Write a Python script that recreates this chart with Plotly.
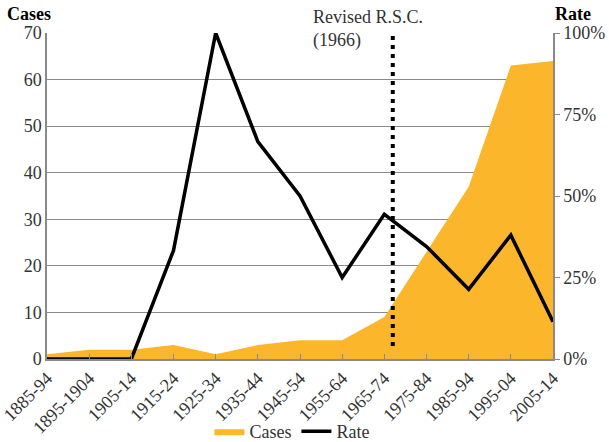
import plotly.graph_objects as go

periods = ["1885-94", "1895-1904", "1905-14", "1915-24", "1925-34", "1935-44",
           "1945-54", "1955-64", "1965-74", "1975-84", "1985-94", "1995-04", "2005-14"]
cases = [1, 2, 2, 3, 1, 3, 4, 4, 9, 23, 37, 63, 64]
rate = [0, 0, 0, 0.333, 1.0, 0.667, 0.50, 0.25, 0.444, 0.345, 0.214, 0.38, 0.114]

revision_pos = 8.2  # 1966 on category axis
FONT = "Liberation Serif"
GRAY = "#8a8a8a"
TXT = "#333333"
FS = 18

fig = go.Figure()
fig.add_trace(go.Scatter(x=periods, y=cases, name="Cases", mode="lines",
                         fill="tozeroy", fillcolor="#FBB62B",
                         line=dict(width=0, color="#FBB62B"), yaxis="y"))
fig.add_trace(go.Scatter(x=periods, y=rate, name="Rate", mode="lines",
                         line=dict(width=3.5, color="black"), yaxis="y2"))

fig.add_shape(type="line", xref="x", yref="y", x0=revision_pos, x1=revision_pos,
              y0=2.8, y1=70, line=dict(color="black", width=4, dash="4px,5px"))

fig.update_layout(
    width=609, height=442,
    margin=dict(l=47, r=56, t=33, b=83, autoexpand=False),
    paper_bgcolor="white", plot_bgcolor="white",
    font=dict(family=FONT, size=FS, color=TXT),
    showlegend=True,
    legend=dict(orientation="h", x=0.484, xanchor="center", y=-0.166, yanchor="top",
                font=dict(size=FS, color=TXT), itemwidth=30, tracegroupgap=0,
                bgcolor="rgba(0,0,0,0)"),
    xaxis=dict(type="category", range=[0, 12], showline=True, linecolor=GRAY,
               linewidth=1.5, ticks="inside", ticklen=5, tickcolor=GRAY,
               tickangle=-45, showgrid=False, automargin=False,
               tickfont=dict(size=FS, color=TXT)),
    yaxis=dict(range=[0, 70], dtick=10, showgrid=True, gridcolor=GRAY, gridwidth=1,
               showline=True, linecolor=GRAY, linewidth=1.5, ticks="",
               zeroline=False, automargin=False, tickfont=dict(size=FS, color=TXT)),
    yaxis2=dict(range=[0, 1], dtick=0.25, tickformat=".0%", overlaying="y",
                side="right", showgrid=False, showline=True, linecolor=GRAY,
                linewidth=1.5, ticks="outside", ticklen=5, tickcolor=GRAY,
                zeroline=False, automargin=False, tickfont=dict(size=FS, color=TXT)),
    annotations=[
        dict(text="<b>Cases</b>", xref="paper", yref="paper", x=-0.083, y=1.058,
             xanchor="left", yanchor="middle", showarrow=False,
             font=dict(size=FS, color="black")),
        dict(text="<b>Rate</b>", xref="paper", yref="paper", x=1.0, y=1.058,
             xanchor="left", yanchor="middle", showarrow=False,
             font=dict(size=FS, color="black")),
        dict(text="Revised R.S.C.<br>(1966)", xref="paper", yref="paper",
             x=0.522, y=1.085, xanchor="left", yanchor="top", align="left",
             showarrow=False, font=dict(size=FS, color=TXT)),
    ],
)

fig.write_html("out.html", config={"displayModeBar": False},
               post_script="document.body.style.margin='0';window.dispatchEvent(new Event('resize'));")
